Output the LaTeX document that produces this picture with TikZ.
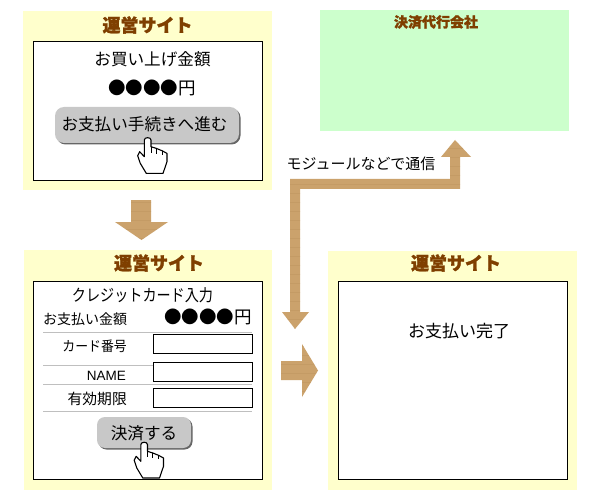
\documentclass[tikz,border=0pt]{standalone}
\usepackage{fontspec}
\setmainfont{Noto Sans CJK JP}
\newfontfamily\titlefont[BoldFeatures={FakeBold=1.5}]{Noto Sans CJK JP}
\newfontfamily\latinfont{Liberation Sans}
\definecolor{PanelYellow}{HTML}{FFFFCC}
\definecolor{PanelGreen}{HTML}{CCFFCC}
\definecolor{TitleBrown}{HTML}{7F3F00}
\definecolor{WoodTan}{HTML}{CBA26C}
\definecolor{WoodDark}{HTML}{B98F5A}
\definecolor{ButtonGray}{HTML}{C8C8C8}
\tikzset{
  paneltitle/.style={font=\fontsize{18}{18}\titlefont\bfseries,text=TitleBrown,inner sep=0pt},
  bodytext/.style={font=\fontsize{16.6}{17}\selectfont,inner sep=0pt},
  smalltext/.style={font=\fontsize{14}{14}\selectfont,inner sep=0pt},
  dotstext/.style={font=\fontsize{17.5}{18}\selectfont,inner sep=0pt},
  inputbox/.style={draw=black,fill=white,line width=0.9pt},
  wood/.style={fill=WoodTan,path picture={
    \foreach \s in {4,13,...,600}{
      \draw[WoodDark,line width=0.5pt,opacity=0.35] (0,\s) -- (600,\s);
    }}},
  pics/hand/.style={code={
    \draw[fill=white,line width=1.1pt,line join=round]
      (-2.7,19) -- (-2.7,2.3) .. controls (-2.7,-0.8) and (4,-0.8) .. (4,2.3)
      -- (4,9) -- (9.3,10.7) -- (15,13) -- (20,15.7) -- (20,24) -- (16,35.7)
      -- (-0.7,35.7) -- (-6.7,25.7) -- (-9.3,18) -- (-7.3,14) -- cycle;
    \draw[line width=0.8pt] (4,9) -- (4,15) (9.3,10.7) -- (9.3,16) (15,13) -- (15,17);
  }},
}
\begin{document}
\begin{tikzpicture}[x=1pt,y=-1pt]
  \useasboundingbox (0,0) rectangle (600,500);
  \fill[white] (0,0) rectangle (600,500);

  % --- Paneles ---
  \foreach \xa/\ya/\xb/\yb in {23/11/272/190, 24/250/272/490, 328/251/577/490}{
    \fill[PanelYellow] (\xa,\ya) rectangle (\xb,\yb);
  }
  \fill[PanelGreen] (320,10) rectangle (569,131);
  \foreach \xa/\ya/\xb/\yb in {33/41/262/180, 33/281/262/479, 338/281/567/479}{
    \draw[fill=white,line width=0.9pt] (\xa,\ya) rectangle (\xb,\yb);
  }

  % --- Titulos ---
  \node[paneltitle] (titleA) at (147.5,25) {運営サイト};
  \node[paneltitle] (titleB) at (159,263) {運営サイト};
  \node[paneltitle] (titleC) at (456,263) {運営サイト};
  \node[paneltitle,font=\fontsize{14}{14}\titlefont\bfseries] (titlePay) at (436,22) {決済代行会社};

  % --- Primer panel ---
  \node[bodytext] (amountA) at (152.5,59) {お買い上げ金額};
  \node[dotstext] (dotsA) at (152,88) {●●●●円};
  \fill[black!60,rounded corners=9pt] (56.5,108.5) rectangle (240.5,144.5);
  \fill[ButtonGray,rounded corners=9pt] (55,107) rectangle (239,143);
  \node[bodytext] (buttonA) at (144.5,124) {お支払い手続きへ進む};
  \pic at (147,137.7) {hand};

  % --- Segundo panel ---
  \node[bodytext,xscale=0.85] (cardTitle) at (142.5,295) {クレジットカード入力};
  \node[smalltext,anchor=west] (amountB) at (43,319) {お支払い金額};
  \node[dotstext,anchor=east] (dotsB) at (252,317) {●●●●円};
  \foreach \y in {332,365,384,411}{
    \draw[black!25,line width=0.8pt] (43,\y) -- (252,\y);
  }
  \foreach \ya/\yb in {334/353, 362/381, 388/407}{
    \draw[inputbox] (153,\ya) rectangle (252,\yb);
  }
  \node[smalltext,anchor=east,xscale=0.92] (cardNo) at (127,346) {カード番号};
  \node[smalltext,anchor=east,font=\fontsize{13.5}{14}\latinfont] (cardName) at (126,376) {NAME};
  \node[smalltext,anchor=east,font=\fontsize{14.8}{15}\selectfont] (cardLimit) at (127,399) {有効期限};
  \fill[black!60,rounded corners=8pt] (98.5,418.5) rectangle (192.5,449.5);
  \fill[ButtonGray,rounded corners=8pt] (97,417) rectangle (191,448);
  \node[bodytext] (buttonB) at (144,433) {決済する};
  \pic at (143.5,442.3) {hand};

  % --- Tercer panel ---
  \node[bodytext,font=\fontsize{17}{17}\selectfont] (doneText) at (459,331) {お支払い完了};

  % --- Flechas ---
  \path[wood] (131,200) -- (151,200) -- (151,222) -- (168,222) -- (141.5,240)
    -- (115,222) -- (131,222) -- cycle;
  \path[wood] (455,140) -- (471,157) -- (460,157) -- (460,189) -- (300,189)
    -- (300,312) -- (309,312) -- (295,329) -- (282,312) -- (290,312) -- (290,179)
    -- (450,179) -- (450,157) -- (441,157) -- cycle;
  \path[wood] (281,361) -- (302,361) -- (302,344) -- (318,370.5) -- (302,397)
    -- (302,380) -- (281,380) -- cycle;
  \node[bodytext,font=\fontsize{15}{15}\selectfont] (moduleText) at (361,164) {モジュールなどで通信};
\end{tikzpicture}
\end{document}
